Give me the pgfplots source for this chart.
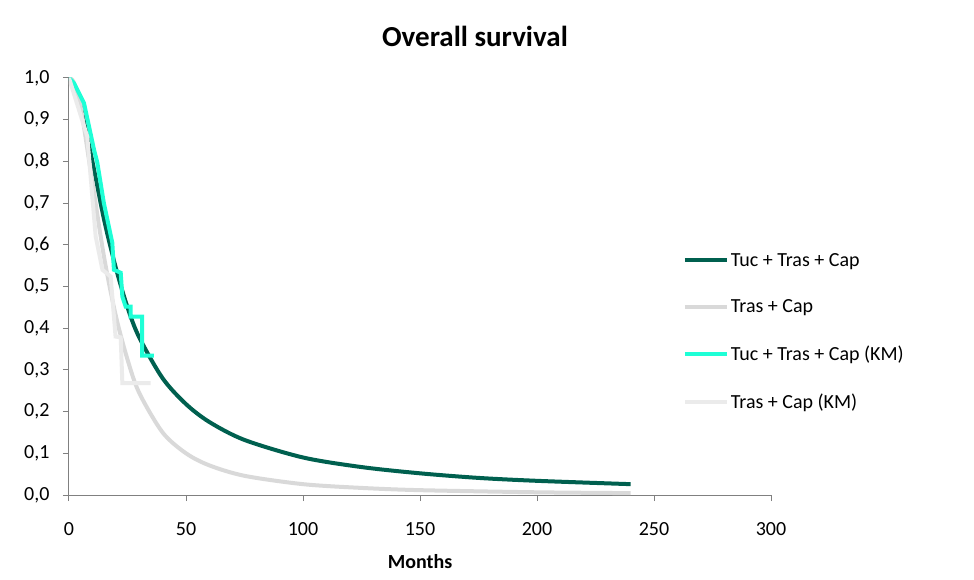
\documentclass[border=0pt]{standalone}
\usepackage{pgfplots}
\pgfplotsset{compat=1.18}
\usepackage{fontspec}
\setmainfont{Carlito}
\definecolor{dkg}{HTML}{00604F}
\definecolor{lg}{HTML}{D9D9D9}
\definecolor{cy}{HTML}{1EFFD6}
\definecolor{vlg}{HTML}{EBEBEB}
\begin{document}
\begin{tikzpicture}
\path[use as bounding box] (-69pt,-84pt) rectangle (905pt,495pt);
\begin{axis}[at={(0,0)},anchor=origin,
  scale only axis, width=702pt, height=417pt,
  xmin=0,xmax=300,ymin=0,ymax=1,
  xtick={0,50,...,300}, ytick={0,0.1,...,1.0},
  /pgf/number format/assume math mode=true,
  yticklabel style={xshift=-10pt,/pgf/number format/.cd,fixed,fixed zerofill,precision=1,use comma},
  xticklabel style={yshift=-18pt},
  ticklabel style={font=\fontsize{20}{24}\selectfont},
  axis x line*=bottom, axis y line*=left,
  axis line style={gray,line width=1pt}, tick style={gray,line width=1pt},
  major tick length=6pt, tick align=outside,
  x axis line style={-}, y axis line style={-},
  xlabel={\textbf{Months}}, xlabel style={font=\fontsize{20}{24}\selectfont,yshift=-12pt},
  title={\textbf{Overall survival}}, title style={font=\fontsize{29}{34}\selectfont,yshift=22pt,xshift=55pt},
  legend style={draw=none,fill=none,at={(0.870,0.59)},anchor=north west,
    font=\fontsize{20}{24}\selectfont,row sep=28pt},
  legend cell align=left,
  legend image code/.code={\draw[#1,line width=4pt] (0pt,0pt) -- (42pt,0pt);},
]
\addplot[dkg,line width=4pt,smooth] coordinates {(0,1)(2,0.985)(5,0.93)(10,0.80)(15,0.66)(20,0.545)(25,0.45)(30,0.378)(40,0.280)(50,0.218)(60,0.175)(75,0.132)(100,0.090)(125,0.067)(150,0.052)(175,0.041)(200,0.034)(240,0.026)};
\addlegendentry{Tuc + Tras + Cap}
\addplot[lg,line width=4pt,smooth] coordinates {(0,1)(2,0.99)(5,0.93)(10,0.75)(15,0.57)(20,0.43)(25,0.325)(30,0.245)(40,0.150)(50,0.100)(60,0.071)(75,0.046)(100,0.026)(125,0.017)(150,0.0116)(200,0.0065)(240,0.0045)};
\addlegendentry{Tras + Cap}
\addplot[cy,line width=4pt] coordinates {(0,1)(2.1,0.988)(6.4,0.94)(10.7,0.828)(12.1,0.797)(14.9,0.70)(18.5,0.605)(19.2,0.54)(22.1,0.533)(22.8,0.476)(24.2,0.452)(26.3,0.452)(26.3,0.428)(31.3,0.428)(31.3,0.334)(36.3,0.334)};
\addlegendentry{Tuc + Tras + Cap (KM)}
\addplot[vlg,line width=4pt] coordinates {(0,1)(7.8,0.86)(11.4,0.62)(14.3,0.54)(17.8,0.524)(19.9,0.38)(22.1,0.378)(22.8,0.268)(34.9,0.268)};
\addlegendentry{Tras + Cap (KM)}
\end{axis}
\end{tikzpicture}
\end{document}
